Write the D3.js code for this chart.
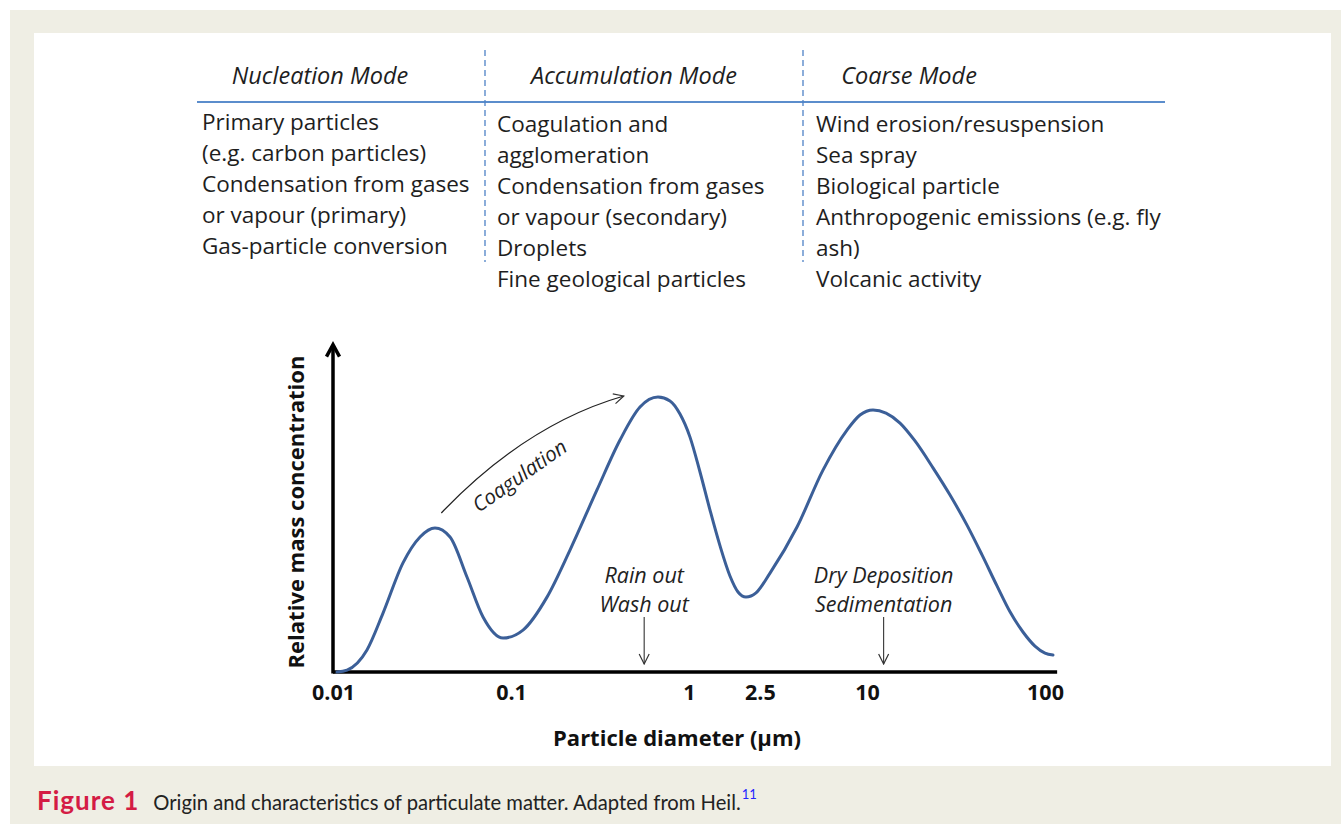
<!DOCTYPE html>
<html>
<head>
<meta charset="utf-8">
<script src="https://cdn.jsdelivr.net/npm/d3@7"></script>
<style>
  body { margin: 0; background: #fff; }
  svg { display: block; }
</style>
</head>
<body>
<svg id="chart" width="1341" height="824"></svg>
<script>
// ---- data ----
var modeHeaders = ["Nucleation Mode", "Accumulation Mode", "Coarse Mode"];
var nucleationSources = ["Primary particles", "(e.g. carbon particles)", "Condensation from gases", "or vapour (primary)", "Gas-particle conversion"];
var accumulationSources = ["Coagulation and", "agglomeration", "Condensation from gases", "or vapour (secondary)", "Droplets", "Fine geological particles"];
var coarseSources = ["Wind erosion/resuspension", "Sea spray", "Biological particle", "Anthropogenic emissions (e.g. fly", "ash)", "Volcanic activity"];

var tickValues = [0.01, 0.1, 1, 2.5, 10, 100];

// particle diameter (um) / relative mass concentration (0..1)
var diameters = [0.01053, 0.01199, 0.01552, 0.0191, 0.02473, 0.03083, 0.03741, 0.04544, 0.05658, 0.06964, 0.0902,
  0.1168, 0.1593, 0.2145, 0.3041, 0.4097, 0.5305, 0.6695, 0.7821, 0.8901, 1.013, 1.153, 1.312, 1.494, 1.699,
  1.885, 2.09, 2.379, 2.852, 4.044, 5.658, 7.72, 9.135, 10.81, 12.79, 15.33, 18.61, 23.49, 29.27, 36.46,
  44.28, 53.74, 63.6, 75.2, 87.8, 100, 110.9];
var concentrations = [0, 0.006, 0.069, 0.184, 0.341, 0.422, 0.45, 0.422, 0.297, 0.172, 0.106,
  0.131, 0.234, 0.381, 0.569, 0.725, 0.828, 0.859, 0.847, 0.806, 0.734, 0.625, 0.506, 0.394, 0.3,
  0.25, 0.234, 0.247, 0.309, 0.453, 0.631, 0.756, 0.803, 0.819, 0.809, 0.778, 0.722, 0.638, 0.553, 0.459,
  0.366, 0.269, 0.188, 0.125, 0.081, 0.059, 0.053];

var removalNotes = [
  { lines: ["Rain out", "Wash out"], d: 0.56 },
  { lines: ["Dry Deposition", "Sedimentation"], d: 12.4 }
];
// coagulation arrow: start, control, end (diameter, concentration)
var coagulationPath = [[0.0406, 0.497], [0.122, 0.775], [0.43, 0.8625]];

var svg = d3.select("#chart");
var W = 1341, H = 824;
var bodyFont = "'Open Sans', sans-serif";
var captionFont = "Lato, sans-serif";

// page background + white panel
svg.append("rect").attr("width", W).attr("height", H).attr("fill", "#fff");
svg.append("rect").attr("x", 10).attr("y", 10).attr("width", W - 10).attr("height", H - 10).attr("fill", "#efeee4");
svg.append("rect").attr("x", 34).attr("y", 33).attr("width", 1297).attr("height", 733).attr("fill", "#fff");

// ---- table of sources ----
var table = svg.append("g").attr("font-family", bodyFont).attr("fill", "#1e1e1e");
var headerX = [320, 634, 909];
table.selectAll("text.header")
  .data(modeHeaders)
  .enter().append("text")
  .attr("class", "header")
  .attr("x", (d, i) => headerX[i])
  .attr("y", 84)
  .attr("text-anchor", "middle")
  .attr("font-style", "italic")
  .attr("font-size", 23.5)
  .text(d => d);

table.append("line")
  .attr("x1", 197).attr("x2", 1165).attr("y1", 102).attr("y2", 102)
  .attr("stroke", "#5b8dcc").attr("stroke-width", 2);

[485, 803].forEach(x => {
  table.append("line")
    .attr("x1", x).attr("x2", x).attr("y1", 50).attr("y2", 262)
    .attr("stroke", "#4f82c6").attr("stroke-width", 1.3)
    .attr("stroke-dasharray", "6,4");
});

var columns = [
  { items: nucleationSources, x: 202, y0: 130 },
  { items: accumulationSources, x: 497, y0: 132 },
  { items: coarseSources, x: 816, y0: 132 }
];
columns.forEach(col => {
  table.append("g").selectAll("text")
    .data(col.items)
    .enter().append("text")
    .attr("x", col.x)
    .attr("y", (d, i) => col.y0 + i * 31)
    .attr("font-size", 22.5)
    .text(d => d);
});

// ---- chart ----
var x = d3.scaleLog().domain([0.01, 100]).range([333, 1045]);
var y = d3.scaleLinear().domain([0, 1]).range([672, 352]);

var chart = svg.append("g");

// axis lines
chart.append("line")
  .attr("x1", x(0.01)).attr("x2", x(117)).attr("y1", y(0)).attr("y2", y(0))
  .attr("stroke", "#000").attr("stroke-width", 3.5);
chart.append("line")
  .attr("x1", x(0.01)).attr("x2", x(0.01)).attr("y1", y(0) + 1.5).attr("y2", y(1.02))
  .attr("stroke", "#000").attr("stroke-width", 3.5);
chart.append("path")
  .attr("d", "M" + (x(0.01) - 6.5) + "," + (y(1.02) + 11) + "L" + x(0.01) + "," + (y(1.02) - 1) + "L" + (x(0.01) + 6.5) + "," + (y(1.02) + 11))
  .attr("fill", "none").attr("stroke", "#000").attr("stroke-width", 3.5).attr("stroke-linejoin", "miter");

// tick labels
var xAxis = d3.axisBottom(x).tickValues(tickValues).tickSize(0).tickPadding(13)
  .tickFormat(d => String(d));
var ax = chart.append("g").attr("transform", "translate(0," + y(0) + ")").call(xAxis);
ax.select(".domain").remove();
ax.selectAll("text")
  .attr("font-family", bodyFont)
  .attr("font-weight", "bold")
  .attr("font-size", 21.5)
  .attr("fill", "#111");

// axis titles
chart.append("text")
  .attr("x", 677).attr("y", 746)
  .attr("text-anchor", "middle")
  .attr("font-family", bodyFont).attr("font-weight", "bold").attr("font-size", 22)
  .attr("fill", "#111")
  .text("Particle diameter (\u00b5m)");
chart.append("text")
  .attr("transform", "translate(304,512) rotate(-90)")
  .attr("text-anchor", "middle")
  .attr("font-family", bodyFont).attr("font-weight", "bold").attr("font-size", 22)
  .attr("fill", "#111")
  .text("Relative mass concentration");

// distribution curve
var curveData = diameters.map((d, i) => [d, concentrations[i]]);
var line = d3.line()
  .x(d => x(d[0]))
  .y(d => y(d[1]))
  .curve(d3.curveMonotoneX);
chart.append("path")
  .datum(curveData)
  .attr("d", line)
  .attr("fill", "none")
  .attr("stroke", "#3b5f98")
  .attr("stroke-width", 3)
  .attr("stroke-linecap", "round");

// arrow marker
svg.append("defs").append("marker")
  .attr("id", "openArrow")
  .attr("viewBox", "0 0 12 12")
  .attr("refX", 11).attr("refY", 6)
  .attr("markerWidth", 12).attr("markerHeight", 12)
  .attr("markerUnits", "userSpaceOnUse")
  .attr("orient", "auto")
  .append("path")
  .attr("d", "M1,1L11,6L1,11")
  .attr("fill", "none").attr("stroke", "#333").attr("stroke-width", 1.2);

// coagulation arrow + label
var cp = coagulationPath.map(p => [x(p[0]), y(p[1])]);
chart.append("path")
  .attr("d", "M" + cp[0] + "Q" + cp[1] + " " + cp[2])
  .attr("fill", "none").attr("stroke", "#222").attr("stroke-width", 1.3)
  .attr("marker-end", "url(#openArrow)");
chart.append("text")
  .attr("transform", "translate(" + x(0.118) + "," + y(0.595) + ") rotate(-35)")
  .attr("text-anchor", "middle")
  .attr("font-family", bodyFont).attr("font-style", "italic").attr("font-size", 20.5)
  .attr("fill", "#222")
  .text("Coagulation");

// removal notes with down arrows
var notes = chart.selectAll("g.note")
  .data(removalNotes)
  .enter().append("g").attr("class", "note");
notes.each(function(n) {
  var g = d3.select(this);
  g.selectAll("text")
    .data(n.lines)
    .enter().append("text")
    .attr("x", x(n.d))
    .attr("y", (d, i) => 583 + i * 29)
    .attr("text-anchor", "middle")
    .attr("font-family", bodyFont).attr("font-style", "italic").attr("font-size", 21.5)
    .attr("fill", "#222")
    .text(d => d);
  g.append("line")
    .attr("x1", x(n.d)).attr("x2", x(n.d))
    .attr("y1", 617).attr("y2", 664)
    .attr("stroke", "#333").attr("stroke-width", 1.1)
    .attr("marker-end", "url(#openArrow)");
});

// ---- caption ----
var cap = svg.append("text")
  .attr("x", 37).attr("y", 810)
  .attr("font-family", captionFont);
cap.append("tspan")
  .attr("font-weight", "bold").attr("font-size", 26).attr("letter-spacing", 1).attr("fill", "#d41c44")
  .text("Figure 1");
cap.append("tspan")
  .attr("dx", 14).attr("font-size", 20.2).attr("fill", "#222")
  .text("Origin and characteristics of particulate matter. Adapted from Heil.");
cap.append("tspan")
  .attr("dy", -11).attr("dx", 1).attr("font-size", 13).attr("fill", "#2424ff")
  .text("11");
</script>
</body>
</html>
